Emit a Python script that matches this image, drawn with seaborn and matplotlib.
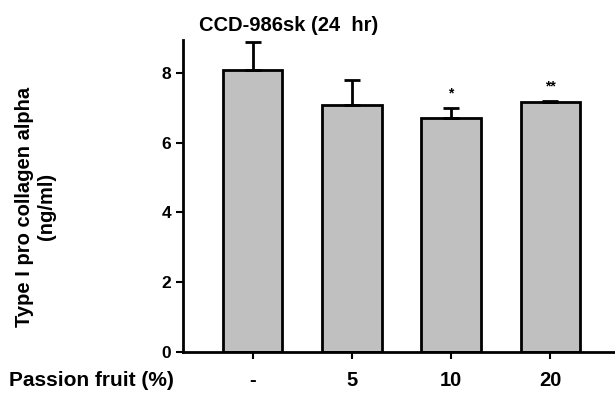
import matplotlib
matplotlib.use("Agg")
import matplotlib.pyplot as plt
import seaborn as sns
import numpy as np
import pandas as pd

categories = ["-", "5", "10", "20"]
means = [8.08, 7.08, 6.70, 7.16]
sem = [0.80, 0.72, 0.30, 0.03]
stars = ["", "", "*", "**"]

sns.set_style("ticks")
plt.rcParams['font.family'] = ['Liberation Sans', 'DejaVu Sans']
plt.rcParams['font.weight'] = 'bold'
for k in ['text.color', 'axes.labelcolor', 'xtick.color', 'ytick.color', 'axes.edgecolor']:
    plt.rcParams[k] = 'black'

fig = plt.figure(figsize=(6.15, 3.94), dpi=100)
ax = fig.add_axes([0.2976, 0.1066, 0.7024, 0.7914])

df = pd.DataFrame({"cat": categories, "val": means})
sns.barplot(data=df, x="cat", y="val", order=categories, color="#c0c0c0",
            saturation=1, width=0.6, edgecolor="black", linewidth=2, ax=ax, errorbar=None)

xs = np.arange(len(categories))
ax.errorbar(xs, means, yerr=[np.zeros(len(sem)), sem], fmt="none", ecolor="black",
            elinewidth=2, capsize=6, capthick=2)
for x, m, s, st in zip(xs, means, sem, stars):
    if st:
        ax.text(x, m + s + 0.22, st, ha="center", va="bottom", fontsize=10, fontweight="bold")

ax.set_xlim(-0.70, 3.65)
ax.set_ylim(0, 8.94)
ax.set_yticks([0, 2, 4, 6, 8])
ax.tick_params(axis="both", width=1.5, length=5, direction="out")
ax.tick_params(axis="y", labelsize=12.5)
ax.tick_params(axis="x", labelsize=14.5, pad=9)
for lab in ax.get_xticklabels() + ax.get_yticklabels():
    lab.set_fontweight("bold")
ax.set_xlabel("")
ax.set_ylabel("")
sns.despine(ax=ax)
for sp in ["left", "bottom"]:
    ax.spines[sp].set_linewidth(2)

fig.text(0.015, 0.035, "Passion fruit (%)", fontsize=15, fontweight="bold", ha="left", va="center")
fig.text(0.057, 0.475, "Type I pro collagen alpha\n(ng/ml)", rotation=90, fontsize=14.5,
         fontweight="bold", ha="center", va="center", multialignment="center")
fig.text(0.47, 0.935, "CCD-986sk (24  hr)", fontsize=14.5, fontweight="bold", ha="center", va="center")

fig.savefig("out.png", dpi=100)
